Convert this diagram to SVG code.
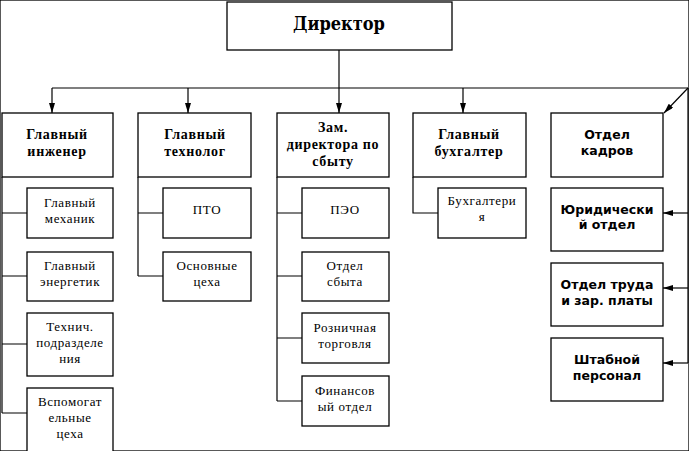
<svg xmlns="http://www.w3.org/2000/svg" width="689" height="451" viewBox="0 0 689 451">
<defs>
<marker id="ah" viewBox="0 0 10 6" refX="10" refY="3" markerWidth="10" markerHeight="6" markerUnits="userSpaceOnUse" orient="auto">
<path d="M0,0 L10,3 L0,6 Z" fill="#000"/>
</marker>
</defs>
<style>
rect{fill:#fff;stroke:#000;stroke-width:1.3}
.c line,.c path{stroke:#000;stroke-width:1.2;fill:none}
.t{font-family:"Liberation Serif","DejaVu Serif",serif;font-weight:bold;font-size:14px;letter-spacing:0.7px;text-anchor:middle}
.k{font-family:"DejaVu Sans","Liberation Sans",sans-serif;font-weight:bold;font-size:12.5px;text-anchor:middle}
.d{font-family:"DejaVu Serif Condensed","DejaVu Serif",serif;font-weight:bold;font-size:18px;text-anchor:middle}
.s{font-family:"Liberation Serif",serif;font-size:13px;letter-spacing:0.6px;text-anchor:middle}
</style>
<rect width="689" height="451" fill="#fff" stroke="none"/>
<g class="c" id="connectors">
<line x1="339" y1="50" x2="339" y2="88"/>
<line x1="52" y1="88" x2="688" y2="88"/>
<line x1="52" y1="88" x2="52" y2="113" marker-end="url(#ah)"/>
<line x1="188" y1="88" x2="188" y2="113" marker-end="url(#ah)"/>
<line x1="339" y1="88" x2="339" y2="113" marker-end="url(#ah)"/>
<line x1="463" y1="88" x2="463" y2="113" marker-end="url(#ah)"/>
<line x1="688" y1="88" x2="664" y2="113" marker-end="url(#ah)"/>
<path d="M2,177 V413 M2,213 H27 M2,276 H27 M2,344 H27 M2,413 H27"/>
<path d="M138,177 V276 M138,213 H163 M138,276 H163"/>
<path d="M277,177 V401 M277,213 H302 M277,276 H302 M277,338 H302 M277,401 H302"/>
<path d="M413,177 V213 H438"/>
<line x1="688" y1="88" x2="688" y2="363"/>
<line x1="688" y1="213" x2="663" y2="213" marker-end="url(#ah)"/>
<line x1="688" y1="288" x2="663" y2="288" marker-end="url(#ah)"/>
<line x1="688" y1="363" x2="663" y2="363" marker-end="url(#ah)"/>
</g>
<g id="director"><rect x="227" y="2" width="225" height="48"/><text class="d" x="339" y="30">Директор</text></g>
<g id="eng"><rect x="2" y="113" width="111" height="64"/><text class="t" x="57" y="139">Главный</text><text class="t" x="57" y="156">инженер</text></g>
<g id="tech"><rect x="138" y="113" width="113" height="64"/><text class="t" x="195" y="139">Главный</text><text class="t" x="195" y="156">технолог</text></g>
<g id="zam"><rect x="277" y="113" width="112" height="64"/><text class="t" x="333" y="132">Зам.</text><text class="t" x="333" y="149">директора по</text><text class="t" x="333" y="166">сбыту</text></g>
<g id="buh"><rect x="413" y="113" width="113" height="64"/><text class="t" x="469" y="139">Главный</text><text class="t" x="469" y="156">бухгалтер</text></g>
<g id="kadr"><rect x="551" y="113" width="112" height="64"/><text class="k" x="607" y="139">Отдел</text><text class="k" x="607" y="155">кадров</text></g>
<g id="mech"><rect x="27" y="188" width="86" height="50"/><text class="s" x="70" y="207">Главный</text><text class="s" x="70" y="223">механик</text></g>
<g id="energ"><rect x="27" y="252" width="86" height="49"/><text class="s" x="70" y="270">Главный</text><text class="s" x="70" y="286">энергетик</text></g>
<g id="tehn"><rect x="27" y="313" width="86" height="63"/><text class="s" x="70" y="331">Технич.</text><text class="s" x="70" y="347">подразделе</text><text class="s" x="70" y="363">ния</text></g>
<g id="vsp"><rect x="27" y="388" width="86" height="70"/><text class="s" x="70" y="406">Вспомогат</text><text class="s" x="70" y="422">ельные</text><text class="s" x="70" y="438">цеха</text></g>
<g id="pto"><rect x="163" y="188" width="88" height="50"/><text class="s" x="207" y="214">ПТО</text></g>
<g id="osn"><rect x="163" y="252" width="88" height="49"/><text class="s" x="207" y="270">Основные</text><text class="s" x="207" y="286">цеха</text></g>
<g id="peo"><rect x="302" y="188" width="87" height="50"/><text class="s" x="345" y="214">ПЭО</text></g>
<g id="sbyt"><rect x="302" y="252" width="87" height="49"/><text class="s" x="345" y="270">Отдел</text><text class="s" x="345" y="286">сбыта</text></g>
<g id="rozn"><rect x="302" y="313" width="87" height="50"/><text class="s" x="345" y="332">Розничная</text><text class="s" x="345" y="348">торговля</text></g>
<g id="fin"><rect x="302" y="376" width="87" height="50"/><text class="s" x="345" y="395">Финансов</text><text class="s" x="345" y="411">ый отдел</text></g>
<g id="buhg"><rect x="438" y="188" width="88" height="50"/><text class="s" x="482" y="205">Бухгалтери</text><text class="s" x="482" y="221">я</text></g>
<g id="yur"><rect x="551" y="188" width="112" height="63"/><text class="k" x="607" y="214">Юридически</text><text class="k" x="607" y="229">й отдел</text></g>
<g id="trud"><rect x="551" y="263" width="112" height="63"/><text class="k" x="607" y="289">Отдел труда</text><text class="k" x="607" y="305">и зар. платы</text></g>
<g id="shtab"><rect x="551" y="338" width="112" height="63"/><text class="k" x="607" y="364">Штабной</text><text class="k" x="607" y="380">персонал</text></g>
</svg>
